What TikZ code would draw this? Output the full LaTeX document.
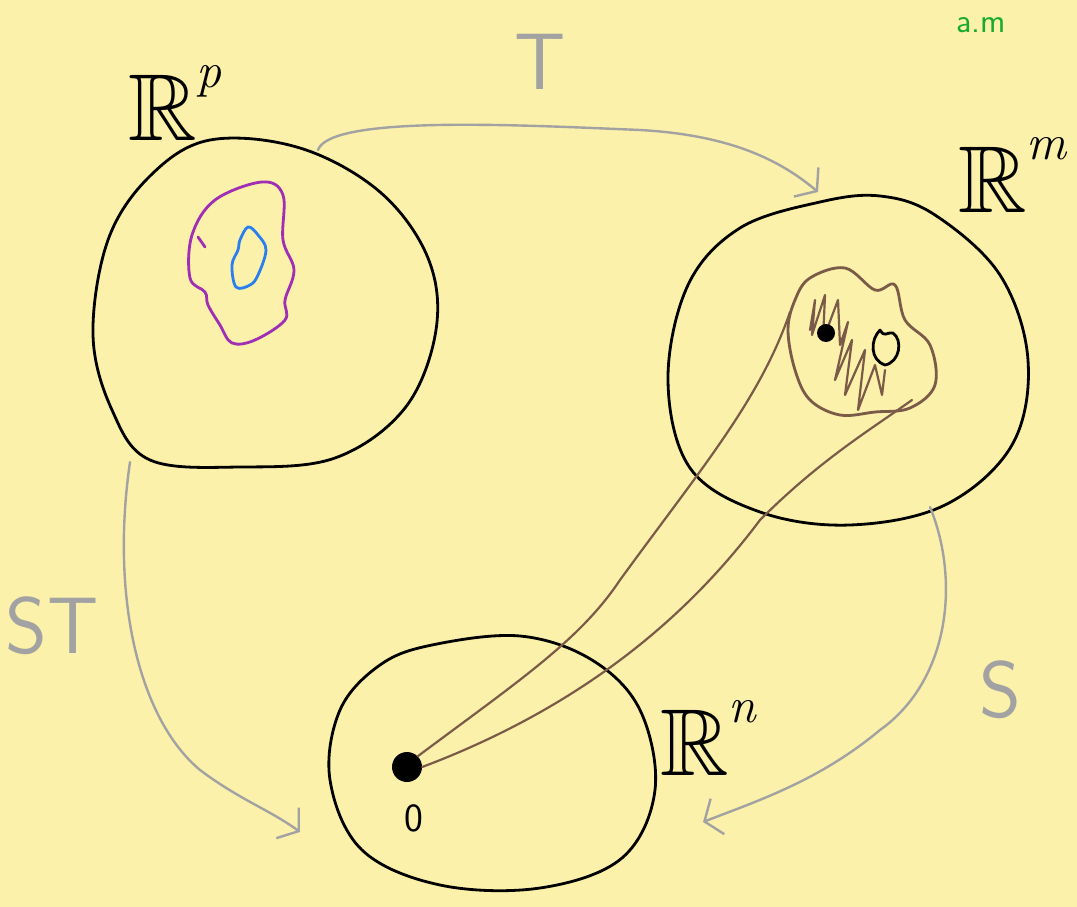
\documentclass[tikz,border=0pt]{standalone}
\usepackage{amssymb}
\usetikzlibrary{arrows.meta}
\definecolor{bg}{HTML}{FBF1AA}
\definecolor{gr}{HTML}{A2A2A2}
\definecolor{pur}{HTML}{A02FB5}
\definecolor{blu}{HTML}{2A7FF0}
\definecolor{brn}{HTML}{7B5A48}
\definecolor{grn}{HTML}{1AAA32}
\newcommand{\spacesup}[1]{\raisebox{0.55em}{\fontsize{50}{50}\selectfont\itshape #1}}
\tikzset{
  ink/.style={line width=2.8pt,line cap=round,line join=round},
  set/.style={ink,black},
  garrow/.style={line width=2.4pt,gr,line cap=round,-{Straight Barb[length=14pt,width=38pt,line width=2.4pt]}},
  glabel/.style={gr,font=\fontsize{80}{80}\selectfont\sffamily},
  rlabel/.style={font=\fontsize{95}{95}\selectfont,inner sep=0pt},
  dot/.style={circle,fill=black,inner sep=0pt,minimum size=#1},
  zero/.style={font=\fontsize{40}{40}\selectfont\sffamily},
}
\begin{document}
\begin{tikzpicture}[x=1pt,y=-1pt]
\fill[bg] (0,0) rectangle (1077,907);
\useasboundingbox (0,0) rectangle (1077,907);

% R^p set
\draw[set] plot[smooth cycle,tension=0.6] coordinates {(210,140) (300,148) (380,192) (428,258) (436,330) (405,408) (335,458) (240,467) (150,460) (112,410) (93,335) (108,240) (150,176)};
% purple and blue regions
\draw[ink,pur] plot[smooth cycle,tension=0.6] coordinates {(215,200) (262,182) (283,195) (283,240) (294,270) (285,300) (285,320) (255,340) (232,343) (220,325) (208,305) (205,292) (190,278) (192,235)};
\draw[ink,pur] (198,237) -- (205,247);
\draw[ink,blu] plot[smooth cycle,tension=0.6] coordinates {(248,227) (258,235) (266,250) (258,275) (250,285) (236,287) (232,265) (238,250) (240,240)};

% R^m set
\draw[set] plot[smooth cycle,tension=0.6] coordinates {(820,202) (880,196) (935,215) (1000,275) (1028,360) (1012,445) (945,505) (850,525) (760,512) (690,468) (668,380) (688,285) (740,228)};
% brown blob
\draw[ink,brn] plot[smooth cycle,tension=0.6] coordinates {(810,278) (845,268) (875,290) (895,285) (905,320) (930,345) (935,385) (910,408) (875,412) (840,415) (810,400) (795,370) (788,330) (795,300)};
\draw[ink,brn,line width=2.2pt] (810,330) -- (815,300) -- (812,335) -- (825,295) -- (823,340) -- (838,300) -- (840,345) -- (848,322) -- (835,380) -- (852,340) -- (845,395) -- (865,350) -- (858,410) -- (875,365) -- (882,395) -- (885,370);
\node[dot=18pt] (dotm) at (826,333) {};
\draw[ink] (880,330) .. controls (870,340) and (870,360) .. (885,365) .. controls (900,362) and (903,340) .. (893,333) .. controls (886,332) and (885,338) .. (880,330);

% R^n set
\draw[set] plot[smooth cycle,tension=0.6] coordinates {(432,645) (520,636) (592,660) (640,710) (655,790) (622,858) (540,888) (440,885) (362,850) (330,780) (340,710) (380,665)};
\node[dot=30pt] (dotn) at (407,767) {};
\node[zero] (zeron) at (414,818) {0};

% brown connector
\coordinate (bupper) at (790,312);
\coordinate (blower) at (912,400);
\draw[ink,brn,line width=2.2pt] (dotn.north east) .. controls (520,680) and (580,640) .. (620,580) .. controls (700,470) and (760,400) .. (bupper);
\draw[ink,brn,line width=2.2pt] (dotn.east) .. controls (600,700) and (700,600) .. (760,520) .. controls (820,460) and (870,430) .. (blower);

% gray arrows
\coordinate (Ts) at (318,150);
\coordinate (Te) at (818,192);
\draw[garrow] (Ts) .. controls (330,115) and (520,125) .. (640,130) .. controls (730,135) and (780,160) .. (Te);
\coordinate (STs) at (130,462);
\coordinate (STe) at (300,832);
\draw[garrow] (STs) .. controls (110,600) and (140,720) .. (200,770) .. controls (240,800) and (270,810) .. (STe);
\coordinate (Ss) at (930,507);
\coordinate (Se) at (703,822);
\draw[garrow] (Ss) .. controls (960,580) and (950,680) .. (880,730) .. controls (820,780) and (760,800) .. (Se);

% labels
\node[glabel] (T) at (540,62) {T};
\node[glabel] (ST) at (52,626) {ST};
\node[glabel] (S) at (1000,690) {S};
\node[rlabel,anchor=base west] (Rp) at (128,140) {$\mathbb{R}$\spacesup{p}};
\node[rlabel,anchor=base west] (Rm) at (958,212) {$\mathbb{R}$\spacesup{m}};
\node[rlabel,anchor=base west] (Rn) at (660,775) {$\mathbb{R}$\spacesup{n}};
\node[grn,font=\fontsize{34}{34}\selectfont\sffamily,anchor=south west,inner sep=1pt] (am) at (955,34) {a.m};
\end{tikzpicture}
\end{document}
